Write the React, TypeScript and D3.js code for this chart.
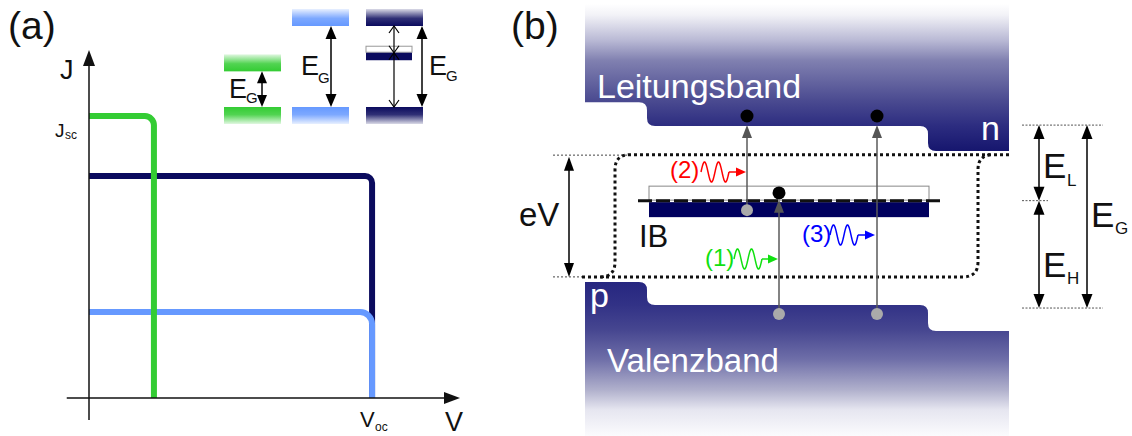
import React from 'react';
import * as d3 from 'd3';

const FONT = '"Liberation Sans", Arial, Helvetica, sans-serif';

// ---------------- Panel (a): J–V characteristics (normalised units) ----------------
const cellKeys = ['zwischenband', 'breit', 'schmal'];      // drawing order
const cellJsc = [0.638, 0.247, 0.81];
const cellVoc = [0.763, 0.763, 0.175];
// inset band diagrams: gap (fraction of the wide gap)
const insetKeys = ['schmal', 'breit', 'zwischenband'];
const insetGap = [0.44, 1.0, 1.0];
const insetIB = 0.67;

// ---------------- Panel (b): band diagram energies (E_V,mid = 0, E_C,mid = 1) --------
const ecLevels = [1.133, 1.0, 0.86];    // p-side, middle, n-side
const evLevels = [0.128, 0.0, -0.145];
const efn = 0.84;
const efp = 0.157;
const ibEnergy = 0.583;
const transLabels = ['(1)', '(2)', '(3)'];
const transFrom = [-0.05, 0.53, -0.05];
const transTo = [0.626, 1.056, 1.056];
const guideLevels = [1.005, ibEnergy, -0.017];

const COLORS: Record<string, string> = {
  zwischenband: '#0b0b5e',
  breit: '#6699ff',
  schmal: '#33cc33',
};
const TRANS_COLORS = ['#10e010', '#ff0000', '#0000ff'];

function vHead(x: number, tip: number, dir: 1 | -1, len: number, w: number, fill: string) {
  const b = tip - dir * len;
  return <path d={`M${x},${tip}L${x - w / 2},${b}L${x + w / 2},${b}Z`} fill={fill} />;
}
function hHead(tip: number, y: number, len: number, w: number, fill: string) {
  return <path d={`M${tip},${y}L${tip - len},${y - w / 2}L${tip - len},${y + w / 2}Z`} fill={fill} />;
}
function dblArrow(x: number, y1: number, y2: number, len = 13, w = 10, color = '#000', sw = 1.5) {
  return (
    <g>
      <line x1={x} x2={x} y1={y1 + len - 2} y2={y2 - len + 2} stroke={color} strokeWidth={sw} />
      {vHead(x, y1, -1, len, w, color)}
      {vHead(x, y2, 1, len, w, color)}
    </g>
  );
}
function openDbl(x: number, y1: number, y2: number) {
  const c = 5, l = 7;
  return (
    <g stroke="#000" strokeWidth={1.2} fill="none">
      <line x1={x} x2={x} y1={y1} y2={y2} />
      <path d={`M${x - c},${y1 + l}L${x},${y1}L${x + c},${y1 + l}`} />
      <path d={`M${x - c},${y2 - l}L${x},${y2}L${x + c},${y2 - l}`} />
    </g>
  );
}
function wave(x0: number, yc: number, len: number, amp: number) {
  const pts: [number, number][] = d3.range(0, 61).map((i) => {
    const t = i / 60;
    return [x0 + t * len, yc - amp * Math.sin(2 * Math.PI * 2 * t)];
  });
  return d3.line().curve(d3.curveCatmullRom)(pts) as string;
}

export default function App() {
  const W = 1132, H = 436;

  const xA = d3.scaleLinear().domain([0, 1]).range([89, 460]);
  const yA = d3.scaleLinear().domain([0, 1]).range([398, 50]);
  const radii = [7, 12, 9];

  const curvePath = (j: number, v: number, r: number) => {
    const p = d3.path();
    p.moveTo(xA(0), yA(j));
    p.arcTo(xA(v), yA(j), xA(v), yA(0), r);
    p.lineTo(xA(v), yA(0));
    return p.toString();
  };

  const yI = d3.scaleLinear().domain([0, 1]).range([107, 26]);
  const insetX = [224, 292, 366];
  const insetW = 57;
  const bandH = 17;

  const eY = d3.scaleLinear().domain([0, 1]).range([305, 126]);
  const L = 585, S1 = 647, S2 = 928, R = 1009, TOP = 4, BOT = 436;
  const r = 8;

  const cP = eY(ecLevels[0]), cM = eY(ecLevels[1]), cN = eY(ecLevels[2]);
  const cbPath =
    `M${L},${TOP}H${R}V${cN}H${S2 + r}Q${S2},${cN} ${S2},${cN - r}V${cM + r}Q${S2},${cM} ${S2 - r},${cM}` +
    `H${S1 + r}Q${S1},${cM} ${S1},${cM - r}V${cP + r}Q${S1},${cP} ${S1 - r},${cP}H${L}Z`;
  const vP = eY(evLevels[0]), vM = eY(evLevels[1]), vN = eY(evLevels[2]);
  const vbPath =
    `M${L},${BOT}V${vP}H${S1 - r}Q${S1},${vP} ${S1},${vP + r}V${vM - r}Q${S1},${vM} ${S1 + r},${vM}` +
    `H${S2 - r}Q${S2},${vM} ${S2},${vM + r}V${vN - r}Q${S2},${vN} ${S2 + r},${vN}H${R}V${BOT}Z`;

  const yFn = eY(efn), yFp = eY(efp);
  const QL = 615, QR = 978, qr = 15;
  const fermi1 = `M${R},${yFn}H${QL + qr}Q${QL},${yFn} ${QL},${yFn + qr}V${yFp - qr}Q${QL},${yFp} ${QL - qr},${yFp}`;
  const fermi2 = `M582,${yFp}H${QR - qr}Q${QR},${yFp} ${QR},${yFp - qr}V${yFn + qr}Q${QR},${yFn} ${QR + qr},${yFn}`;

  const yIB = eY(ibEnergy);
  const transX = [779, 747, 877];
  const waveLayout = [
    { tx: 705, ty: 266, wx: 734, wy: 259, tip: 778 },
    { tx: 670, ty: 178, wx: 701, wy: 172, tip: 746 },
    { tx: 802, ty: 242, wx: 830, wy: 235, tip: 875 },
  ];

  return (
    <svg width={W} height={H} style={{ position: 'absolute', left: 0, top: 0, fontFamily: FONT }}>
      <defs>
        {insetKeys.map((k) => (
          <React.Fragment key={k}>
            <linearGradient id={`top-${k}`} x1="0" y1="0" x2="0" y2="1">
              <stop offset="0" stopColor={COLORS[k]} stopOpacity={0.15} />
              <stop offset="0.55" stopColor={COLORS[k]} stopOpacity={0.85} />
              <stop offset="1" stopColor={COLORS[k]} stopOpacity={1} />
            </linearGradient>
            <linearGradient id={`bot-${k}`} x1="0" y1="0" x2="0" y2="1">
              <stop offset="0" stopColor={COLORS[k]} stopOpacity={1} />
              <stop offset="0.45" stopColor={COLORS[k]} stopOpacity={0.85} />
              <stop offset="1" stopColor={COLORS[k]} stopOpacity={0.15} />
            </linearGradient>
          </React.Fragment>
        ))}
        <linearGradient id="cbGrad" gradientUnits="userSpaceOnUse" x1="0" y1={TOP} x2="0" y2={cN}>
          <stop offset="0" stopColor="#ffffff" />
          <stop offset="0.075" stopColor="#f2f2f7" />
          <stop offset="0.25" stopColor="#b8b8d4" />
          <stop offset="0.385" stopColor="#8080b0" />
          <stop offset="0.66" stopColor="#4a4a90" />
          <stop offset="0.83" stopColor="#2c2c80" />
          <stop offset="1" stopColor="#16166e" />
        </linearGradient>
        <linearGradient id="vbGrad" gradientUnits="userSpaceOnUse" x1="0" y1={vP} x2="0" y2={BOT}>
          <stop offset="0" stopColor="#262680" />
          <stop offset="0.15" stopColor="#323286" />
          <stop offset="0.31" stopColor="#464690" />
          <stop offset="0.5" stopColor="#6e6ea8" />
          <stop offset="0.7" stopColor="#b0b0cc" />
          <stop offset="0.83" stopColor="#e6e6f0" />
          <stop offset="1" stopColor="#fbfbfd" />
        </linearGradient>
      </defs>

      {/* ================= Panel (a) ================= */}
      <text x={8} y={39} fontSize={39} fill="#111">(a)</text>

      {cellKeys.map((k, i) => (
        <path key={k} d={curvePath(cellJsc[i], cellVoc[i], radii[i])} fill="none" stroke={COLORS[k]} strokeWidth={6} />
      ))}

      <line x1={xA(0)} x2={xA(0)} y1={yA(-0.063)} y2={yA(1) + 12} stroke="#111" strokeWidth={1.5} />
      {vHead(xA(0), yA(1), -1, 16, 12, '#111')}
      <line x1={xA(-0.06)} x2={xA(1) - 12} y1={yA(0)} y2={yA(0)} stroke="#111" strokeWidth={1.5} />
      {hHead(xA(1), yA(0), 16, 12, '#111')}

      <text x={60} y={79} fontSize={27} fill="#111">J</text>
      <text x={55} y={137} fontSize={19} fill="#111">J</text>
      <text x={65} y={139} fontSize={12} fill="#111">sc</text>
      <text x={445} y={431} fontSize={27} fill="#111">V</text>
      <text x={360} y={427} fontSize={22} fill="#111">V</text>
      <text x={375} y={431} fontSize={12} fill="#111">oc</text>

      {insetKeys.map((k, i) => {
        const x0 = insetX[i];
        const yTop = yI(insetGap[i]);
        return (
          <g key={k}>
            <rect x={x0} y={yTop - bandH} width={insetW} height={bandH} fill={`url(#top-${k})`} />
            <rect x={x0} y={yI(0)} width={insetW} height={bandH} fill={`url(#bot-${k})`} />
          </g>
        );
      })}
      <rect x={insetX[2]} y={yI(insetIB) - 6.5} width={46} height={6} fill="#fff" stroke="#999" strokeWidth={1} />
      <rect x={insetX[2]} y={yI(insetIB)} width={46} height={7.5} fill={COLORS.zwischenband} />

      {dblArrow(262, yI(insetGap[0]), yI(0), 12, 10)}
      {dblArrow(331, yI(insetGap[1]), yI(0), 13, 11)}
      {dblArrow(422, yI(insetGap[2]), yI(0), 13, 11)}
      {openDbl(394, yI(1), yI(insetIB))}
      {openDbl(394, yI(insetIB), yI(0))}

      <text x={229} y={98} fontSize={27} fill="#111">E</text>
      <text x={246} y={103} fontSize={15} fill="#111">G</text>
      <text x={301} y={75} fontSize={27} fill="#111">E</text>
      <text x={318} y={83} fontSize={15} fill="#111">G</text>
      <text x={429} y={75} fontSize={27} fill="#111">E</text>
      <text x={446} y={81} fontSize={15} fill="#111">G</text>

      {/* ================= Panel (b) ================= */}
      <text x={511} y={39} fontSize={39} fill="#111">(b)</text>

      <path d={cbPath} fill="url(#cbGrad)" />
      <path d={vbPath} fill="url(#vbGrad)" />

      <text x={597} y={98} fontSize={34} fill="#fff">Leitungsband</text>
      <text x={981} y={140} fontSize={34} fill="#fff">n</text>
      <text x={590} y={307} fontSize={34} fill="#fff">p</text>
      <text x={607} y={372} fontSize={33} fill="#fff">Valenzband</text>

      <line x1={553} x2={630} y1={yFn + 0.5} y2={yFn + 0.5} stroke="#444" strokeWidth={1} strokeDasharray="2,2" />
      <line x1={553} x2={585} y1={yFp} y2={yFp} stroke="#444" strokeWidth={1} strokeDasharray="2,2" />
      <path d={fermi1} fill="none" stroke="#111" strokeWidth={3} strokeDasharray="3,3" />
      <path d={fermi2} fill="none" stroke="#111" strokeWidth={3} strokeDasharray="3,3" />

      {dblArrow(569, yFn + 2, yFp, 14, 10)}
      <text x={519} y={226} fontSize={33} fill="#111">eV</text>

      <rect x={649} y={yIB - 14.5} width={280} height={14} fill="#fff" stroke="#888" strokeWidth={1} />
      <rect x={649} y={yIB + 1.5} width={280} height={15} fill="#00005e" />
      <line x1={638} x2={943} y1={yIB} y2={yIB} stroke="#111" strokeWidth={3} strokeDasharray="14,4" />
      <text x={639} y={247} fontSize={31} fill="#111">IB</text>

      {transLabels.map((lab, i) => {
        const x = transX[i];
        const y0 = eY(transFrom[i]);
        const tipY = i === 0 ? yIB - 1 : eY(ecLevels[1]) - 1;
        const wl = waveLayout[i];
        const c = TRANS_COLORS[i];
        return (
          <g key={lab}>
            <line x1={x} x2={x} y1={y0} y2={tipY + 12} stroke="#5a5a5a" strokeWidth={1.5} />
            {vHead(x, tipY, -1, 13, 10, '#555')}
            <circle cx={x} cy={y0} r={6} fill="#aaaaaa" />
            <circle cx={x} cy={eY(transTo[i])} r={6.5} fill="#000" />
            <text x={wl.tx} y={wl.ty} fontSize={24} fill={c}>{lab}</text>
            <path d={wave(wl.wx, wl.wy, 28, 10)} fill="none" stroke={c} strokeWidth={1.5} />
            <line x1={wl.wx + 28} x2={wl.tip - 8} y1={wl.wy} y2={wl.wy} stroke={c} strokeWidth={1.5} />
            {hHead(wl.tip, wl.wy, 10, 9, c)}
          </g>
        );
      })}

      <line x1={1022} x2={1103} y1={eY(guideLevels[0])} y2={eY(guideLevels[0])} stroke="#555" strokeWidth={1} strokeDasharray="2,1.5" />
      <line x1={1022} x2={1048} y1={eY(guideLevels[1])} y2={eY(guideLevels[1])} stroke="#555" strokeWidth={1} strokeDasharray="2,1.5" />
      <line x1={1022} x2={1103} y1={eY(guideLevels[2])} y2={eY(guideLevels[2])} stroke="#555" strokeWidth={1} strokeDasharray="2,1.5" />
      {dblArrow(1039, eY(guideLevels[0]), eY(guideLevels[1]), 14, 11)}
      {dblArrow(1039, eY(guideLevels[1]), eY(guideLevels[2]), 14, 11)}
      {dblArrow(1087, eY(guideLevels[0]), eY(guideLevels[2]), 14, 11)}

      <text x={1043} y={178} fontSize={35} fill="#111">E</text>
      <text x={1067} y={186} fontSize={17} fill="#111">L</text>
      <text x={1043} y={277} fontSize={35} fill="#111">E</text>
      <text x={1067} y={284} fontSize={17} fill="#111">H</text>
      <text x={1091} y={227} fontSize={35} fill="#111">E</text>
      <text x={1115} y={234} fontSize={17} fill="#111">G</text>
    </svg>
  );
}
